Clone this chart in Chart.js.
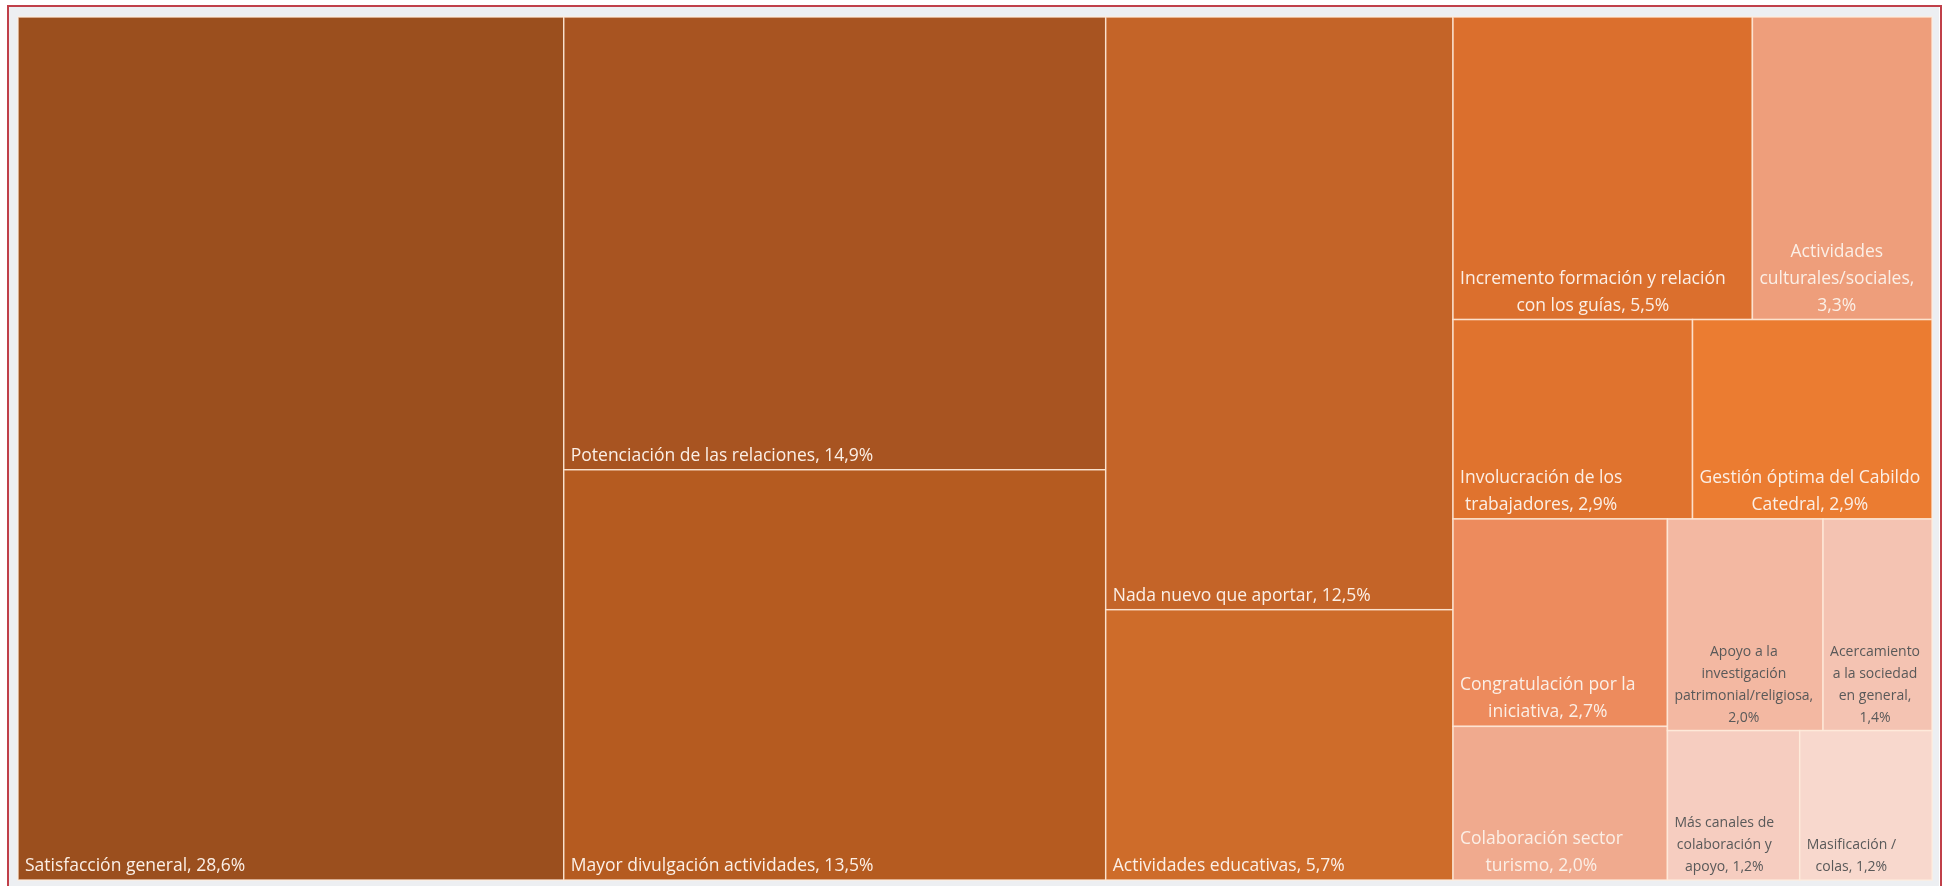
<!DOCTYPE html>
<html>
<head>
<meta charset="utf-8">
<script src="https://cdn.jsdelivr.net/npm/chart.js@4"></script>
<style>
    html, body { margin: 0; padding: 0; background: #ffffff; }
    canvas { display: block; }
</style>
</head>
<body>
<canvas id="treemap" width="1948" height="886"></canvas>
<script>
const categories = [
    'Satisfacción general',
    'Potenciación de las relaciones',
    'Mayor divulgación actividades',
    'Nada nuevo que aportar',
    'Actividades educativas',
    'Incremento formación y relación con los guías',
    'Actividades culturales/sociales',
    'Involucración de los trabajadores',
    'Gestión óptima del Cabildo Catedral',
    'Congratulación por la iniciativa',
    'Colaboración sector turismo',
    'Apoyo a la investigación patrimonial/religiosa',
    'Acercamiento a la sociedad en general',
    'Más canales de colaboración y apoyo',
    'Masificación / colas'
]
const shares = [28.6, 14.9, 13.5, 12.5, 5.7, 5.5, 3.3, 2.9, 2.9, 2.7, 2.0, 2.0, 1.4, 1.2, 1.2]

const fillColors = [
    '#9B4F1E', '#A85421', '#B55B20', '#C46428', '#CE6C2A',
    '#DB6F2D', '#EE9E7B', '#E0732E', '#EB7C31', '#ED8B5D',
    '#F0AA8E', '#F3B8A2', '#F4C3B2', '#F6CDC0', '#F8D8CD'
]
const textColors = [
    '#FBEFE6', '#FBEFE6', '#FBEFE6', '#FBEFE6', '#FBEFE6',
    '#FBEFE6', '#FBEFE6', '#FBEFE6', '#FBEFE6', '#FBEFE6',
    '#FBEFE6', '#595959', '#595959', '#595959', '#595959'
]

const fontFamily = '"Open Sans", "Noto Sans", sans-serif'

// worst aspect ratio of a strip laid along a side of given length
const worstRatio = (row, side) => {
    const s = row.reduce((a, b) => a + b, 0)
    return Math.max(...row.map(a => Math.max(side * side * a / (s * s), (s * s) / (side * side * a))))
}

// squarified layout, values already sorted big -> small
const squarify = (values, w, h) => {
    const total = values.reduce((a, b) => a + b, 0)
    const areas = values.map(v => v * w * h / total)
    const rects = []
    let x = 0, y = 0
    let i = 0
    while (i < areas.length) {
        // Excel keeps stacking columns while the free space is about square
        const vertical = w >= h * 0.9
        const side = vertical ? h : w
        let row = [areas[i]]
        let j = i + 1
        while (j < areas.length) {
            const next = row.concat(areas[j])
            if (worstRatio(next, side) > worstRatio(row, side)) break
            row = next
            j++
        }
        const thick = row.reduce((a, b) => a + b, 0) / side
        let offset = 0
        row.forEach(a => {
            const len = a / thick
            if (vertical) rects.push({x0: x, y0: y + offset, x1: x + thick, y1: y + offset + len})
            else rects.push({x0: x + offset, y0: y, x1: x + offset + len, y1: y + thick})
            offset += len
        })
        if (vertical) { x += thick; w -= thick } else { y += thick; h -= thick }
        i = j
    }
    return rects
}

const wrapText = (ctx, text, maxWidth) => {
    const words = text.split(' ')
    const lines = []
    let line = ''
    words.forEach(word => {
        const test = line ? line + ' ' + word : word
        if (line && ctx.measureText(test).width > maxWidth) {
            lines.push(line)
            line = word
        } else {
            line = test
        }
    })
    if (line) lines.push(line)
    return lines
}

const framePlugin = {
    id: 'frame',
    beforeDraw(chart) {
        const ctx = chart.ctx
        ctx.save()
        ctx.fillStyle = '#ffffff'
        ctx.fillRect(0, 0, chart.width, chart.height)
        ctx.fillStyle = '#EDEFF2'
        ctx.fillRect(9, 7, chart.width - 18, chart.height)
        ctx.strokeStyle = '#C0404A'
        ctx.lineWidth = 2
        ctx.strokeRect(8, 6, chart.width - 15, chart.height + 10)
        ctx.restore()
    }
}

const treemapPlugin = {
    id: 'treemap',
    afterDatasetsDraw(chart) {
        const ctx = chart.ctx
        const xs = chart.scales.x
        const ys = chart.scales.y
        const area = chart.chartArea
        const aspect = (area.right - area.left) / (area.bottom - area.top)
        // layout in units where y spans 0..100 and x spans 0..100*aspect
        const rects = squarify(shares, 100 * aspect, 100)

        ctx.save()
        rects.forEach((r, idx) => {
            const left = xs.getPixelForValue(r.x0 / aspect)
            const right = xs.getPixelForValue(r.x1 / aspect)
            const top = ys.getPixelForValue(r.y0)
            const bottom = ys.getPixelForValue(r.y1)
            const w = right - left
            const h = bottom - top

            ctx.fillStyle = fillColors[idx]
            ctx.fillRect(left, top, w, h)
            ctx.strokeStyle = 'rgba(255, 236, 220, 0.8)'
            ctx.lineWidth = 1.5
            ctx.strokeRect(left, top, w, h)

            const small = w < 170
            const size = small ? 14 : 17.5
            const lineHeight = small ? 22 : 27
            ctx.font = size + 'px ' + fontFamily
            ctx.fillStyle = textColors[idx]
            ctx.textBaseline = 'alphabetic'
            ctx.textAlign = 'left'
            const label = categories[idx] + ', ' + shares[idx].toFixed(1).replace('.', ',') + '%'
            const lines = wrapText(ctx, label, w - 12)
            const blockWidth = Math.max(...lines.map(l => ctx.measureText(l).width))
            lines.forEach((l, k) => {
                const lw = ctx.measureText(l).width
                const tx = left + 7 + (blockWidth - lw) / 2
                const ty = bottom - 9 - (lines.length - 1 - k) * lineHeight
                ctx.fillText(l, tx, ty)
            })
        })
        ctx.restore()
    }
}

new Chart(document.getElementById('treemap'), {
    type: 'scatter',
    data: {
        datasets: [{ data: [] }]
    },
    options: {
        responsive: false,
        animation: false,
        layout: {
            padding: { left: 18, top: 17, right: 16, bottom: 6 }
        },
        plugins: {
            legend: { display: false },
            tooltip: { enabled: false }
        },
        scales: {
            x: { type: 'linear', min: 0, max: 100, display: false },
            y: { type: 'linear', min: 0, max: 100, reverse: true, display: false }
        }
    },
    plugins: [framePlugin, treemapPlugin]
});
</script>
</body>
</html>
